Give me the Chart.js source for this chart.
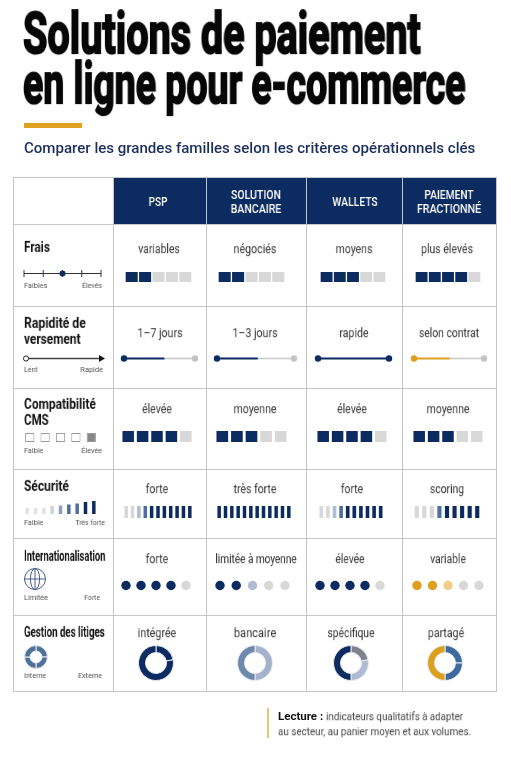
<!DOCTYPE html>
<html lang="fr">
<head>
<meta charset="utf-8">
<title>Solutions de paiement en ligne pour e-commerce</title>
<script src="https://cdn.jsdelivr.net/npm/chart.js@4"></script>
<style>
html,body{margin:0;padding:0;background:#fff;width:511px;height:768px;overflow:hidden}
#page{position:relative;width:511px;height:768px;overflow:hidden}
.t{position:absolute;white-space:nowrap;line-height:1;will-change:transform}
.r{position:absolute}
canvas{position:absolute;display:block}
</style>
</head>
<body>
<div id="page"></div>
<script>
// ---------- data ----------
const titleLines = ["Solutions de paiement", "en ligne pour e-commerce"];
const subtitle = "Comparer les grandes familles selon les critères opérationnels clés";
const solutions = [["PSP"], ["SOLUTION", "BANCAIRE"], ["WALLETS"], ["PAIEMENT", "FRACTIONNÉ"]];
const critFrais = ["Frais"];
const critRapidite = ["Rapidité de", "versement"];
const critCms = ["Compatibilité", "CMS"];
const critSecurite = ["Sécurité"];
const critInter = ["Internationalisation"];
const critLitiges = ["Gestion des litiges"];

const txtFrais = ["variables", "négociés", "moyens", "plus élevés"];
const txtRapidite = ["1–7 jours", "1–3 jours", "rapide", "selon contrat"];
const txtCms = ["élevée", "moyenne", "élevée", "moyenne"];
const txtSecurite = ["forte", "très forte", "forte", "scoring"];
const txtInter = ["forte", "limitée à moyenne", "élevée", "variable"];
const txtLitiges = ["intégrée", "bancaire", "spécifique", "partagé"];

const legFrais = ["Faibles", "Élevés"];
const legRapidite = ["Lent", "Rapide"];
const legCms = ["Faible", "Élevée"];
const legSecurite = ["Faible", "Très forte"];
const legInter = ["Limitée", "Forte"];
const legLitiges = ["Interne", "Externe"];
const noteBold = "Lecture :";
const noteLine1 = "indicateurs qualitatifs à adapter";
const noteLine2 = "au secteur, au panier moyen et aux volumes.";

// shade codes: 0 grey, 1 navy, 2 pale blue, 3 mid blue, 4 gold, 5 pale gold
const fraisCells = [[1,1,0,0,0],[1,1,0,0,0],[1,1,1,0,0],[1,1,1,1,0]];
const cmsCells = [[1,1,1,1,0],[1,1,1,0,0],[1,1,1,1,0],[1,1,1,0,0]];
const secuCells = [
  [0,0,2,3,1,1,1,1,1,1,1],
  [1,1,1,1,1,1,1,1,1,1,1,1],
  [0,0,2,3,1,1,1,1,1,1],
  [0,0,0,3,1,1,1,1,1]
];
const interCells = [[1,1,1,1,0],[1,1,2,0,0],[1,1,1,1,0],[4,4,5,0,0]];
const vitesse = [0.57, 0.53, 1, 0.51];
const vitesseShade = [1, 1, 1, 4];
const litigesParts = [[22,78],[50,50],[22,28,50],[25,25,50]];
const litigesShades = [[1,1],[7,6],[8,2,1],[9,9,4]];
const legFraisTicks = [1,2,3,4,5];
const legFraisMark = 3;
const legCmsCells = [10,10,10,10,11];
const legSecuHeights = [6,6,6.5,8,8.5,9.5,10.5,12,13];
const legSecuShades = [12,12,12,13,14,15,3,1,1];
const legLitigesParts = [25,25,25,25];

// ---------- styling ----------
const NAVY = "#0c2b60", GRID = "#c6c6c6";
const SHADES = ["#d8d8d8", NAVY, "#b0bcd2", "#4f6f9c", "#dc9f1e", "#f0cd88", "#6f88ad", "#a4b2cc",
                "#7d828c", "#3f6a9f", "#ffffff", "#888888", "#e2e2e2", "#cfd3d8", "#8da0ba", "#4f7098"];
const page = document.getElementById("page");
const NARROW = "'Liberation Sans Narrow','Roboto',sans-serif";

function text(s, o) {
  const e = document.createElement("span");
  e.className = "t";
  e.textContent = s;
  e.style.left = o.x + "px";
  e.style.top = o.y + "px";
  e.style.font = (o.weight || 400) + " " + o.size + "px/1 " + (o.font || NARROW);
  e.style.color = o.color || "#222";
  if (o.stroke) e.style.webkitTextStroke = o.stroke + "px " + (o.color || "#000");
  page.appendChild(e);
  const k = o.w ? o.w / e.offsetWidth : 1;
  const sc = "scale(" + k + "," + (o.sy || 1) + ")";
  const a = o.align || "left";
  if (a === "center") e.style.transform = "translate(-50%,-50%) " + sc;
  if (a === "left") { e.style.transformOrigin = "left center"; e.style.transform = "translateY(-50%) " + sc; }
  if (a === "right") { e.style.transformOrigin = "right center"; e.style.transform = "translate(-100%,-50%) " + sc; }
}
function rect(x, y, w, h, c) {
  const e = document.createElement("div");
  e.className = "r";
  e.style.cssText += "left:" + x + "px;top:" + y + "px;width:" + w + "px;height:" + h + "px;background:" + c;
  page.appendChild(e);
}
function canvasAt(x, y, w, h) {
  const c = document.createElement("canvas");
  c.width = w; c.height = h;
  c.style.left = x + "px"; c.style.top = y + "px";
  c.style.width = w + "px"; c.style.height = h + "px";
  page.appendChild(c);
  return c;
}
const hidden = (min, max, type) => ({ type, min, max, display: false, grid: { display: false } });
function base(extra, padX) {
  return Object.assign({
    responsive: false, animation: false, maintainAspectRatio: false,
    plugins: { legend: { display: false }, tooltip: { enabled: false } },
    layout: { autoPadding: false, padding: { left: padX ? padX[0] : 0, right: padX ? padX[1] : 0, top: 0, bottom: 0 } }
  }, extra);
}
function barStrip(box, values, colors, yMax, pct, borders) {
  new Chart(canvasAt(box[0], box[1], box[2], box[3]), {
    type: "bar",
    data: { labels: values.map((_, i) => i + 1), datasets: [{
      data: values, backgroundColor: colors, barPercentage: pct, categoryPercentage: 1, clip: false,
      borderWidth: borders ? 1 : 0, borderColor: borders || "transparent", borderSkipped: false
    }] },
    options: base({ scales: { x: { type: "category", display: false, grid: { display: false } }, y: hidden(0, yMax, "linear") } })
  });
}
function cells(codes, box, pct) {
  barStrip(box, codes.map(() => 1), codes.map(c => SHADES[c]), 1, pct);
}
function dots(codes, box, radius) {
  new Chart(canvasAt(box[0], box[1], box[2], box[3]), {
    type: "scatter",
    data: { datasets: [{
      data: codes.map((_, i) => ({ x: i + 1, y: 0 })), clip: false,
      pointBackgroundColor: codes.map(c => SHADES[c]), pointBorderWidth: 0, pointRadius: radius
    }] },
    options: base({ scales: { x: hidden(1, codes.length, "linear"), y: hidden(-1, 1, "linear") } }, [6, 6])
  });
}
function progress(v, color, box) {
  new Chart(canvasAt(box[0], box[1], box[2], box[3]), {
    type: "scatter",
    data: { datasets: [
      { data: [{ x: 0, y: 0 }, { x: v, y: 0 }], showLine: true, borderColor: color, borderWidth: 1.8, clip: false,
        pointRadius: [3.2, v === 1 ? 3.2 : 0], pointBackgroundColor: color, pointBorderWidth: 0 },
      { data: [{ x: v, y: 0 }, { x: 1, y: 0 }], showLine: true, borderColor: "#c8c8c8", borderWidth: 1.6, clip: false,
        pointRadius: [0, v === 1 ? 0 : 3.2], pointBackgroundColor: "#c4c4c4", pointBorderWidth: 0 }
    ] },
    options: base({ scales: { x: hidden(0, 1, "linear"), y: hidden(-1, 1, "linear") } }, [5, 5])
  });
}
function ring(parts, colors, box, cutout, borderW) {
  new Chart(canvasAt(box[0], box[1], box[2], box[3]), {
    type: "doughnut",
    data: { labels: parts.map((_, i) => i + 1), datasets: [{ data: parts, backgroundColor: colors, borderColor: "#e8ecf2", borderWidth: borderW }] },
    options: base({ cutout })
  });
}

// ---------- header text ----------
text(titleLines[0], { x: 23.3, y: 33.5, size: 43, sy: 1.33, weight: 700, color: "#070707", w: 397.5, stroke: 1.6 });
text(titleLines[1], { x: 23.3, y: 83.5, size: 43, sy: 1.33, weight: 700, color: "#070707", w: 442.5, stroke: 1.6 });
rect(24, 122.7, 58, 5.3, "#dfa11f");
text(subtitle, { x: 24, y: 148.3, size: 15, weight: 500, font: "Roboto,sans-serif", color: "#1b2f5e", w: 451.7 });

// ---------- grid ----------
const colX = [13.5, 113, 206.5, 306.5, 402, 496];
const rowY = [177.5, 224.7, 306.3, 388.3, 469, 538.7, 615, 691];
rect(113, 177.5, 383, 47.2, NAVY);
rowY.forEach(y => rect(13, y - 0.5, 483.5, 1.1, GRID));
colX.forEach(x => rect(x - 0.5, 177, 1.1, 514.5, GRID));

// ---------- column heads ----------
const headC = [158.3, 256, 355, 449.3];
const headW = [[19], [50, 51], [45.7], [49.3, 63.7]];
solutions.forEach((l, i) => l.forEach((s, j) => {
  const y = l.length === 1 ? 202 : (j ? 209.3 : 195.3);
  text(s, { x: headC[i], y, size: 12, weight: 500, font: "Roboto,sans-serif", color: "#fff", w: headW[i][j], align: "center" });
}));

// ---------- row heads ----------
const crit = (s, y, w) => text(s, { x: 24, y, size: 13.6, sy: 1.04, weight: 700, color: "#111", w });
crit(critFrais[0], 247, 26);
crit(critRapidite[0], 323, 62); crit(critRapidite[1], 338.8, 56.7);
crit(critCms[0], 404, 72); crit(critCms[1], 419.8, 24.5);
crit(critSecurite[0], 485.7, 45);
crit(critInter[0], 556, 81.3);
crit(critLitiges[0], 631.7, 80.5);

// ---------- cell labels ----------
const cellText = (list, y, cs, ws) => list.forEach((s, i) =>
  text(s, { x: cs[i], y, size: 13.7, color: "#333", w: ws[i], align: "center" }));
cellText(txtFrais, 249.3, [159, 255, 354, 447], [41.7, 42.7, 36.7, 52.3]);
cellText(txtRapidite, 332.7, [160, 255, 354, 448.8], [45, 45, 29.3, 60.3]);
cellText(txtCms, 409, [157.3, 254.8, 352.3, 448], [30, 43, 30, 43]);
cellText(txtSecurite, 488.7, [156.5, 255.3, 351.7, 447.3], [22.3, 42.7, 22, 34]);
cellText(txtInter, 559, [156.5, 255.7, 350.3, 447.7], [22.3, 81.3, 29.3, 36]);
cellText(txtLitiges, 633, [156.5, 255.3, 351.3, 445.5], [38.3, 42, 47.3, 36.3]);

// ---------- legend labels ----------
const leg = (pair, y, wl, xr, wr) => {
  text(pair[0], { x: 24, y, size: 8, color: "#555", w: wl });
  text(pair[1], { x: xr, y, size: 8, color: "#555", w: wr, align: "right" });
};
leg(legFrais, 286, 23, 101.7, 20);
leg(legRapidite, 370, 14, 103, 22.3);
leg(legCms, 451, 19, 101.7, 20.7);
leg(legSecurite, 523, 19, 104.7, 30);
leg(legInter, 598, 23.7, 100, 16);
leg(legLitiges, 675.7, 22.3, 102, 24.3);

// ---------- marks in the cells ----------
const fraisBox = [[125, 272, 67], [218, 272, 67], [320, 272, 66], [415, 272, 66]];
fraisCells.forEach((c, i) => cells(c, [fraisBox[i][0], fraisBox[i][1], fraisBox[i][2], 10], 0.9));

const progBox = [[119, 81], [212, 87], [313, 81], [409, 80]];
vitesse.forEach((v, i) => progress(v, SHADES[vitesseShade[i]], [progBox[i][0], 352, progBox[i][1], 13]));

const cmsBox = [[121, 72], [215, 73], [316, 72], [412, 72]];
cmsCells.forEach((c, i) => cells(c, [cmsBox[i][0], 431, cmsBox[i][1], 11], 0.8));

const secuBox = [[123, 70], [216, 76], [318, 66], [413, 68]];
secuCells.forEach((c, i) => cells(c, [secuBox[i][0], 506, secuBox[i][1], 12], 0.55));

const interBox = [[120, 72], [214, 77], [314, 72], [411, 74]];
interCells.forEach((c, i) => dots(c, [interBox[i][0], 579, interBox[i][1], 13], 4.7));

const ringX = [156, 254.7, 351, 445];
litigesParts.forEach((p, i) =>
  ring(p, litigesShades[i].map(c => SHADES[c]), [Math.round(ringX[i] - 18), 645, 36, 36], "60%", 1));

// ---------- legend marks ----------
new Chart(canvasAt(20, 267, 86, 13), {
  type: "scatter",
  data: { datasets: [
    { data: [{ x: legFraisMark, y: 0 }], pointRadius: 3, pointBackgroundColor: NAVY, pointBorderWidth: 0, clip: false },
    { data: legFraisTicks.map(v => ({ x: v, y: 0 })), showLine: true, borderColor: "#333", borderWidth: 1, clip: false,
      pointStyle: "line", rotation: 90, pointRadius: 3.5, pointBorderColor: "#333", pointBorderWidth: 1 }
  ] },
  options: base({ scales: { x: hidden(1, 5, "linear"), y: hidden(-1, 1, "linear") } }, [4, 5])
});
new Chart(canvasAt(20, 352, 86, 13), {
  type: "scatter",
  data: { datasets: [{
    data: [{ x: 0, y: 0 }, { x: 1, y: 0 }], showLine: true, borderColor: "#444", borderWidth: 1.6, clip: false,
    pointStyle: ["circle", "triangle"], rotation: [0, 90], pointRadius: [2.6, 4],
    pointBackgroundColor: ["#fff", "#111"], pointBorderColor: ["#222", "#111"], pointBorderWidth: [1, 0]
  }] },
  options: base({ scales: { x: hidden(0, 1, "linear"), y: hidden(-1, 1, "linear") } }, [6, 5])
});
barStrip([22, 432, 77, 10], legCmsCells.map(() => 1), legCmsCells.map(c => SHADES[c]), 1.1, 0.6, "#999");
barStrip([23, 499, 75, 15], legSecuHeights, legSecuShades.map(c => SHADES[c]), 15, 0.42);
ring(legLitigesParts, [SHADES[15], SHADES[15], SHADES[15], SHADES[15]], [24, 645, 24, 24], "52%", 1);

// ---------- globe icon ----------
const ns = "http://www.w3.org/2000/svg";
const svg = document.createElementNS(ns, "svg");
svg.setAttribute("width", 24); svg.setAttribute("height", 24);
svg.style.cssText = "position:absolute;left:23px;top:566.7px";
svg.innerHTML = '<g fill="none" stroke="#4a5f8c" stroke-width="1"><circle cx="12" cy="12" r="10.5"/><ellipse cx="12" cy="12" rx="4.6" ry="10.5"/><path d="M1.5 12H22.5M12 1.5V22.5"/></g>';
page.appendChild(svg);

// ---------- note ----------
rect(267, 708, 1.6, 30, "#e6c67a");
text(noteBold, { x: 278.3, y: 717.3, size: 11.5, weight: 700, font: "Roboto,sans-serif", color: "#111", w: 45 });
text(noteLine1, { x: 325.7, y: 717.3, size: 11.5, font: "Roboto,sans-serif", color: "#444", w: 137 });
text(noteLine2, { x: 278.3, y: 731.7, size: 11.5, font: "Roboto,sans-serif", color: "#444", w: 193.4 });
</script>
</body>
</html>
